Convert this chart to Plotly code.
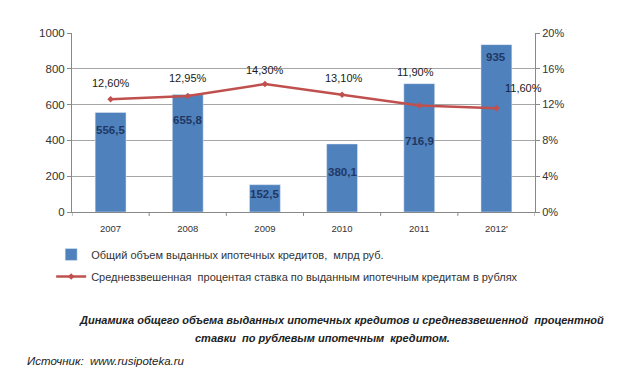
import plotly.graph_objects as go

years = ["2007", "2008", "2009", "2010", "2011", "2012'"]
volume = [556.5, 655.8, 152.5, 380.1, 716.9, 935]
volume_labels = ["556,5", "655,8", "152,5", "380,1", "716,9", "935"]
rate = [12.60, 12.95, 14.30, 13.10, 11.90, 11.60]
rate_labels = ["12,60%", "12,95%", "14,30%", "13,10%", "11,90%", "11,60%"]

# label placement (positions, not data)
volume_label_y = [458, 514, 100, 223, 397, 866]
rate_label_y = [14.4, 15.0, 15.85, 15.0, 15.65, 13.85]
rate_label_xshift = [0, 0, 0, 2, -4, 27]

FONT = "Liberation Sans"

fig = go.Figure()
fig.add_trace(go.Bar(
    x=years, y=volume, name="Общий объем выданных ипотечных кредитов,  млрд руб.",
    marker_color="#4F81BD", legendgroup="a",
))
fig.add_trace(go.Scatter(
    x=years, y=rate, yaxis="y2", mode="lines+markers", legendgroup="b",
    name="Средневзвешенная  процентая ставка по выданным ипотечным кредитам в рублях",
    line=dict(color="#C0504D", width=2.5), marker=dict(color="#C0504D", size=5, symbol="diamond"),
))

annotations = []
for i, (ly, lab) in enumerate(zip(volume_label_y, volume_labels)):
    annotations.append(dict(x=i, y=ly, xref="x", yref="y", text="<b>" + lab + "</b>",
                            showarrow=False, font=dict(size=11.5, color="#1F3864", family=FONT)))
for i, (ly, dx, lab) in enumerate(zip(rate_label_y, rate_label_xshift, rate_labels)):
    annotations.append(dict(x=i, y=ly, xref="x", yref="y2", text=lab, xshift=dx,
                            showarrow=False, font=dict(size=11, color="#1a1a1a", family=FONT)))

annotations += [
    dict(text="<b><i>Динамика общего объема выданных ипотечных кредитов и средневзвешенной  процентной</i></b>",
         xref="paper", yref="paper", x=0.583, y=-0.603, xanchor="center", yanchor="middle",
         showarrow=False, font=dict(size=11, color="#222")),
    dict(text="<b><i>ставки  по рублевым ипотечным  кредитом.</i></b>",
         xref="paper", yref="paper", x=0.54, y=-0.704, xanchor="center", yanchor="middle",
         showarrow=False, font=dict(size=11, color="#222")),
    dict(text="<i>Источник:  www.rusipoteka.ru</i>", xref="paper", yref="paper",
         x=-0.1015, y=-0.832, xanchor="left", yanchor="middle", showarrow=False,
         font=dict(size=11.5, color="#222")),
]

# visible short ticks at category boundaries
shapes = [dict(type="line", xref="x", yref="paper", x0=k - 0.5, x1=k - 0.5, y0=0, y1=-0.022,
               line=dict(color="#888", width=1)) for k in range(len(years) + 1)]

fig.update_layout(
    width=620, height=386, paper_bgcolor="white", plot_bgcolor="white",
    margin=dict(l=64, r=93, t=25, b=182),
    font=dict(family=FONT, size=10, color="#333"),
    bargap=0.6,
    xaxis=dict(type="category", categoryorder="array", categoryarray=years,
               range=[-0.5, len(years) - 0.5], autorange=False,
               showline=True, linecolor="#888", ticks="outside",
               ticklen=8, tickcolor="rgba(0,0,0,0)", tickfont=dict(size=9.5)),
    yaxis=dict(range=[0, 1000], dtick=200, showgrid=True, gridcolor="#A6A6A6",
               showline=True, linecolor="#888", ticks="outside", ticklen=4, tickcolor="#888",
               zeroline=False, tickfont=dict(size=11.5)),
    yaxis2=dict(range=[0, 20], dtick=4, ticksuffix="%", overlaying="y", side="right",
                showgrid=False, showline=True, linecolor="#888", ticks="outside", ticklen=4,
                tickcolor="#888", zeroline=False, tickfont=dict(size=11)),
    legend=dict(x=-0.045, y=-0.156, xanchor="left", yanchor="top", orientation="v",
                font=dict(size=11, color="#333"), tracegroupgap=3, bgcolor="rgba(0,0,0,0)"),
    showlegend=True,
    annotations=annotations,
    shapes=shapes,
)

fig.write_html("out.html")
